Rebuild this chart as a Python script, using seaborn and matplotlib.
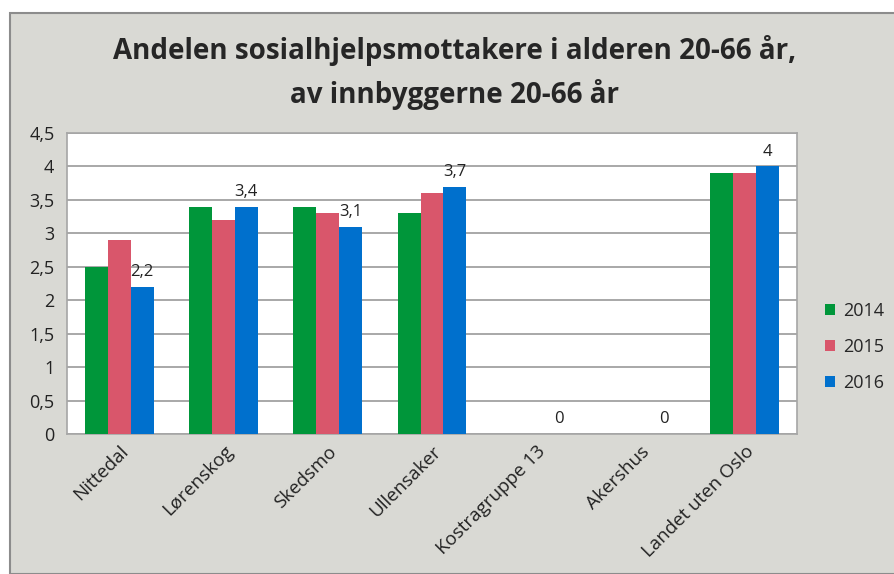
"""
Andel sosialhjelpsmottakere 20-66 år, grouped bars by kommune and year
"""

import pandas as pd
import seaborn as sns
import matplotlib.pyplot as plt

categories = ["Nittedal", "Lørenskog", "Skedsmo", "Ullensaker",
              "Kostragruppe 13", "Akershus", "Landet uten Oslo"]
years = ["2014", "2015", "2016"]
values_2014 = [2.5, 3.4, 3.4, 3.3, 0, 0, 3.9]
values_2015 = [2.9, 3.2, 3.3, 3.6, 0, 0, 3.9]
values_2016 = [2.2, 3.4, 3.1, 3.7, 0, 0, 4.0]
y_ticks = [0, 0.5, 1, 1.5, 2, 2.5, 3, 3.5, 4, 4.5]

BG = "#d9d9d4"
colors = ["#00963a", "#d9566b", "#0070cd"]


def main() -> None:
    rows = []
    for year, vals in zip(years, [values_2014, values_2015, values_2016]):
        for cat, v in zip(categories, vals):
            rows.append({"Kategori": cat, "År": year, "Verdi": v})
    df = pd.DataFrame(rows)

    sns.set_style("white")
    plt.rcParams["font.family"] = ["Open Sans", "DejaVu Sans"]

    fig = plt.figure(figsize=(8.95, 5.74), dpi=100)
    fig.patch.set_facecolor("white")
    # grey chart area with border, leaving a white strip on top
    fig.add_artist(plt.Rectangle((10 / 895, 0), 1, 1 - 13 / 574,
                                 transform=fig.transFigure, facecolor=BG,
                                 edgecolor="#8c8c8c", linewidth=1.5, zorder=-10))

    ax = fig.add_axes([67 / 895, 1 - 434 / 574, 730 / 895, 301 / 574])
    sns.barplot(data=df, x="Kategori", y="Verdi", hue="År", palette=colors,
                width=0.66, ax=ax, saturation=1, linewidth=0, zorder=3)

    ax.set_ylim(0, 4.5)
    ax.set_yticks(y_ticks)
    ax.set_yticklabels([f"{t:g}".replace(".", ",") for t in y_ticks], fontsize=13)
    ax.yaxis.grid(True, color="#9a9a9a", linewidth=1.2, zorder=0)
    ax.set_axisbelow(True)
    ax.set_xlabel("")
    ax.set_ylabel("")
    ax.tick_params(axis="y", length=0, pad=9, colors="#222222")
    ax.tick_params(axis="x", length=0, pad=6, colors="#222222")
    plt.setp(ax.get_xticklabels(), rotation=45, ha="right",
             rotation_mode="anchor", fontsize=13.5)
    for side in ax.spines.values():
        side.set_color("#a6a6a6")
        side.set_linewidth(1.2)

    # data labels only on the 2016 series
    labels = [f"{v:g}".replace(".", ",") for v in values_2016]
    ax.bar_label(ax.containers[2], labels=labels, padding=5, fontsize=12,
                 color="#222222")

    ax.legend(loc="center left", bbox_to_anchor=(1.038, 0.29),
              frameon=False, fontsize=13, handlelength=0.55,
              handleheight=0.55, labelspacing=1.0, handletextpad=0.45,
              borderpad=0, borderaxespad=0)

    fig.text(0.508, 0.912, "Andelen sosialhjelpsmottakere i alderen 20-66 år,",
             ha="center", va="center", fontsize=20, fontweight="bold")
    fig.text(0.508, 0.836, "av innbyggerne 20-66 år",
             ha="center", va="center", fontsize=20, fontweight="bold")

    fig.savefig("out.png", dpi=100, facecolor=fig.get_facecolor())


if __name__ == "__main__":
    main()
